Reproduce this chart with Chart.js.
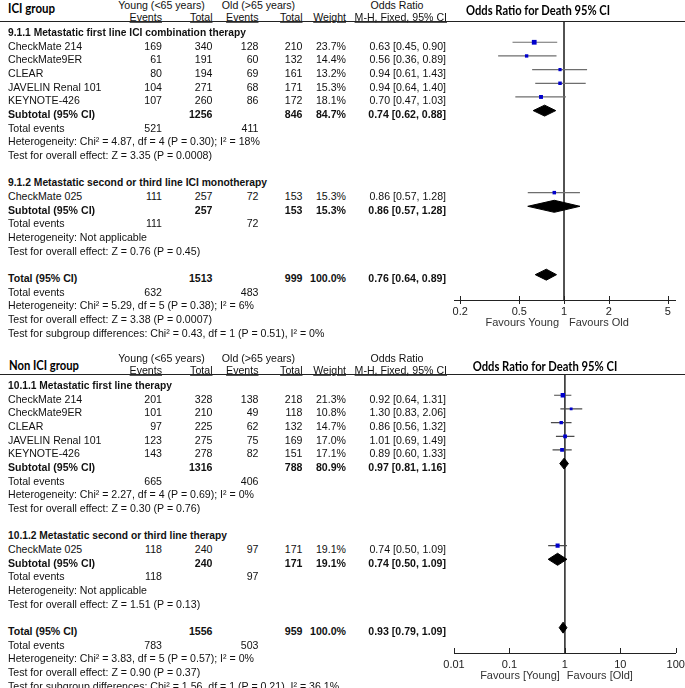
<!DOCTYPE html>
<html>
<head>
<meta charset="utf-8">
<script src="https://cdn.jsdelivr.net/npm/chart.js@4.4.1/dist/chart.umd.min.js"></script>
<style>
html, body { margin: 0; padding: 0; background: #fff; }
body { width: 685px; height: 688px; position: relative; overflow: hidden;
       font-family: "Liberation Sans", Arial, sans-serif; font-size: 10.6px; color: #111; }
.t { position: absolute; white-space: nowrap; line-height: 1; }
.b { font-weight: bold; }
.u { text-decoration: underline; }
.cal { font-family: Lato, "Open Sans", sans-serif; font-weight: bold; color: #000; }
.rule { position: absolute; left: 0; width: 685px; height: 1.4px; background: #222; }
.fp { position: absolute; left: 440px; }
</style>
</head>
<body>
<canvas id="fpTop" class="fp" width="260" height="340" style="top:0px"></canvas>
<canvas id="fpBottom" class="fp" width="260" height="340" style="top:353px"></canvas>
<script>
// ---------- ICI group ----------
var iciTitle = 'ICI group';
var iciHeading1 = '9.1.1 Metastatic first line ICI combination therapy';
var iciStudies1 = ['CheckMate 214', 'CheckMate9ER', 'CLEAR', 'JAVELIN Renal 101', 'KEYNOTE-426'];
var iciYoungEvents1 = [169, 61, 80, 104, 107];
var iciYoungTotal1 = [340, 191, 194, 271, 260];
var iciOldEvents1 = [128, 60, 69, 68, 86];
var iciOldTotal1 = [210, 132, 161, 171, 172];
var iciWeight1 = [23.7, 14.4, 13.2, 15.3, 18.1];
var iciOR1 = [0.63, 0.56, 0.94, 0.94, 0.70];
var iciLow1 = [0.45, 0.36, 0.61, 0.64, 0.47];
var iciHigh1 = [0.90, 0.89, 1.43, 1.40, 1.03];
var iciSubtotal1 = [1256, 846, 84.7];          // young total, old total, weight
var iciSubtotalOR1 = [0.74, 0.62, 0.88];       // OR, low, high
var iciEvents1 = [521, 411];
var iciStats1 = ['Heterogeneity: Chi\u00b2 = 4.87, df = 4 (P = 0.30); I\u00b2 = 18%',
                 'Test for overall effect: Z = 3.35 (P = 0.0008)'];

var iciHeading2 = '9.1.2 Metastatic second or third line ICI monotherapy';
var iciStudies2 = ['CheckMate 025'];
var iciYoungEvents2 = [111];
var iciYoungTotal2 = [257];
var iciOldEvents2 = [72];
var iciOldTotal2 = [153];
var iciWeight2 = [15.3];
var iciOR2 = [0.86];
var iciLow2 = [0.57];
var iciHigh2 = [1.28];
var iciSubtotal2 = [257, 153, 15.3];
var iciSubtotalOR2 = [0.86, 0.57, 1.28];
var iciEvents2 = [111, 72];
var iciStats2 = ['Heterogeneity: Not applicable',
                 'Test for overall effect: Z = 0.76 (P = 0.45)'];

var iciTotal = [1513, 999, 100.0];
var iciTotalOR = [0.76, 0.64, 0.89];
var iciTotalEvents = [632, 483];
var iciTotalStats = ['Heterogeneity: Chi\u00b2 = 5.29, df = 5 (P = 0.38); I\u00b2 = 6%',
                     'Test for overall effect: Z = 3.38 (P = 0.0007)',
                     'Test for subgroup differences: Chi\u00b2 = 0.43, df = 1 (P = 0.51), I\u00b2 = 0%'];
var iciTicks = [0.2, 0.5, 1, 2, 5];
var iciTickLabels = ['0.2', '0.5', '1', '2', '5'];
var iciFavours = ['Favours Young', 'Favours Old'];

// ---------- Non ICI group ----------
var nonTitle = 'Non ICI group';
var nonHeading1 = '10.1.1 Metastatic first line therapy';
var nonStudies1 = ['CheckMate 214', 'CheckMate9ER', 'CLEAR', 'JAVELIN Renal 101', 'KEYNOTE-426'];
var nonYoungEvents1 = [201, 101, 97, 123, 143];
var nonYoungTotal1 = [328, 210, 225, 275, 278];
var nonOldEvents1 = [138, 49, 62, 75, 82];
var nonOldTotal1 = [218, 118, 132, 169, 151];
var nonWeight1 = [21.3, 10.8, 14.7, 17.0, 17.1];
var nonOR1 = [0.92, 1.30, 0.86, 1.01, 0.89];
var nonLow1 = [0.64, 0.83, 0.56, 0.69, 0.60];
var nonHigh1 = [1.31, 2.06, 1.32, 1.49, 1.33];
var nonSubtotal1 = [1316, 788, 80.9];
var nonSubtotalOR1 = [0.97, 0.81, 1.16];
var nonEvents1 = [665, 406];
var nonStats1 = ['Heterogeneity: Chi\u00b2 = 2.27, df = 4 (P = 0.69); I\u00b2 = 0%',
                 'Test for overall effect: Z = 0.30 (P = 0.76)'];

var nonHeading2 = '10.1.2 Metastatic second or third line therapy';
var nonStudies2 = ['CheckMate 025'];
var nonYoungEvents2 = [118];
var nonYoungTotal2 = [240];
var nonOldEvents2 = [97];
var nonOldTotal2 = [171];
var nonWeight2 = [19.1];
var nonOR2 = [0.74];
var nonLow2 = [0.50];
var nonHigh2 = [1.09];
var nonSubtotal2 = [240, 171, 19.1];
var nonSubtotalOR2 = [0.74, 0.50, 1.09];
var nonEvents2 = [118, 97];
var nonStats2 = ['Heterogeneity: Not applicable',
                 'Test for overall effect: Z = 1.51 (P = 0.13)'];

var nonTotal = [1556, 959, 100.0];
var nonTotalOR = [0.93, 0.79, 1.09];
var nonTotalEvents = [783, 503];
var nonTotalStats = ['Heterogeneity: Chi\u00b2 = 3.83, df = 5 (P = 0.57); I\u00b2 = 0%',
                     'Test for overall effect: Z = 0.90 (P = 0.37)',
                     'Test for subgroup differences: Chi\u00b2 = 1.56, df = 1 (P = 0.21), I\u00b2 = 36.1%'];
var nonTicks = [0.01, 0.1, 1, 10, 100];
var nonTickLabels = ['0.01', '0.1', '1', '10', '100'];
var nonFavours = ['Favours [Young]', 'Favours [Old]'];

// ---------- layout ----------
var ROW0 = 32;          // y of first table row inside a panel
var ROWSTEP = 13.67;
var COLS = { name: 8, ye: 162, yt: 212.5, oe: 258.5, ot: 302.5, w: 346, or: 446 };

function addText(s, x, y, align, cls) {
    var el = document.createElement('div');
    el.className = 't ' + (cls || '');
    el.textContent = s;
    el.style.left = x + 'px';
    el.style.top = y + 'px';
    var tx = align === 'right' ? '-100%' : (align === 'center' ? '-50%' : '0');
    el.style.transform = 'translate(' + tx + ',-50%)';
    document.body.appendChild(el);
    return el;
}

// squeeze a text to the width it has in the picture
function fitText(el, target, align) {
    var w = el.getBoundingClientRect().width;
    var k = target / w;
    var tx = align === 'center' ? '-50%' : '0';
    el.style.transformOrigin = align === 'center' ? '50% 50%' : '0 50%';
    el.style.transform = 'translate(' + tx + ',-50%) scaleX(' + k + ')';
}

function fmtOR(a) {
    return a[0].toFixed(2) + ' [' + a[1].toFixed(2) + ', ' + a[2].toFixed(2) + ']';
}

function makeSection(heading, names, ye, yt, oe, ot, w, or, lo, hi, sub, subOR, ev, stats) {
    return { heading: heading, names: names, ye: ye, yt: yt, oe: oe, ot: ot, w: w,
             or: or, lo: lo, hi: hi, sub: sub, subOR: subOR, ev: ev, stats: stats };
}

function buildTable(off, title, titleX, titleY, titleW, sections, headW, total, totalOR, totalEv, totalStats) {
    var t = addText(title, titleX, off + titleY, 'left', 'cal');
    t.style.fontSize = '13px';
    fitText(t, titleW, 'left');

    addText('Young (<65 years)', 161.5, off + 5, 'center');
    addText('Old (>65 years)', 258.5, off + 5, 'center');
    addText('Odds Ratio', 397, off + 5, 'center');
    addText('Events', COLS.ye, off + 17, 'right', 'u');
    addText('Total', COLS.yt, off + 17, 'right', 'u');
    addText('Events', COLS.oe, off + 17, 'right', 'u');
    addText('Total', COLS.ot, off + 17, 'right', 'u');
    addText('Weight', COLS.w, off + 17, 'right', 'u');
    addText('M-H, Fixed, 95% CI', COLS.or + 1, off + 17, 'right', 'u');

    var rule = document.createElement('div');
    rule.className = 'rule';
    rule.style.top = (off + 21) + 'px';
    document.body.appendChild(rule);

    var y = function (r) { return off + ROW0 + ROWSTEP * r; };
    var r = 0;
    sections.forEach(function (s, si) {
        var h = addText(s.heading, COLS.name, y(r), 'left', 'b');
        fitText(h, headW[si], 'left');
        s.names.forEach(function (n, i) {
            var rr = r + 1 + i;
            addText(n, COLS.name, y(rr), 'left');
            addText(String(s.ye[i]), COLS.ye, y(rr), 'right');
            addText(String(s.yt[i]), COLS.yt, y(rr), 'right');
            addText(String(s.oe[i]), COLS.oe, y(rr), 'right');
            addText(String(s.ot[i]), COLS.ot, y(rr), 'right');
            addText(s.w[i].toFixed(1) + '%', COLS.w, y(rr), 'right');
            addText(fmtOR([s.or[i], s.lo[i], s.hi[i]]), COLS.or, y(rr), 'right');
        });
        var k = s.names.length;
        addText('Subtotal (95% CI)', COLS.name, y(r + k + 1), 'left', 'b');
        addText(String(s.sub[0]), COLS.yt, y(r + k + 1), 'right', 'b');
        addText(String(s.sub[1]), COLS.ot, y(r + k + 1), 'right', 'b');
        addText(s.sub[2].toFixed(1) + '%', COLS.w, y(r + k + 1), 'right', 'b');
        addText(fmtOR(s.subOR), COLS.or, y(r + k + 1), 'right', 'b');
        addText('Total events', COLS.name, y(r + k + 2), 'left');
        addText(String(s.ev[0]), COLS.ye, y(r + k + 2), 'right');
        addText(String(s.ev[1]), COLS.oe, y(r + k + 2), 'right');
        addText(s.stats[0], COLS.name, y(r + k + 3), 'left');
        addText(s.stats[1], COLS.name, y(r + k + 4), 'left');
        s.row = r;
        r += k + 6;
    });
    addText('Total (95% CI)', COLS.name, y(r), 'left', 'b');
    addText(String(total[0]), COLS.yt, y(r), 'right', 'b');
    addText(String(total[1]), COLS.ot, y(r), 'right', 'b');
    addText(total[2].toFixed(1) + '%', COLS.w, y(r), 'right', 'b');
    addText(fmtOR(totalOR), COLS.or, y(r), 'right', 'b');
    addText('Total events', COLS.name, y(r + 1), 'left');
    addText(String(totalEv[0]), COLS.ye, y(r + 1), 'right');
    addText(String(totalEv[1]), COLS.oe, y(r + 1), 'right');
    totalStats.forEach(function (s, i) {
        addText(s, COLS.name, y(r + 2 + i), 'left');
    });
    return r;   // row of the overall total
}

// ticks and "Favours" labels under the axis
var axisDecor = {
    id: 'axisDecor',
    afterDraw: function (chart, args, opts) {
        var ctx = chart.ctx, xs = chart.scales.x, yb = chart.chartArea.bottom;
        ctx.save();
        ctx.strokeStyle = '#222';
        ctx.lineWidth = 1;
        xs.ticks.forEach(function (t) {
            var px = Math.round(xs.getPixelForValue(t.value)) + 0.5;
            ctx.beginPath();
            ctx.moveTo(px, yb - opts.up);
            ctx.lineTo(px, yb + opts.down);
            ctx.stroke();
        });
        var x1 = xs.getPixelForValue(1);
        ctx.fillStyle = '#333';
        ctx.font = '11px "Liberation Sans", Arial, sans-serif';
        ctx.textBaseline = 'middle';
        ctx.textAlign = 'right';
        ctx.fillText(opts.labels[0], x1 - 5, yb + 23);
        ctx.textAlign = 'left';
        ctx.fillText(opts.labels[1], x1 + opts.gap, yb + 23);
        ctx.restore();
    }
};

function diamond(a, row, h) {
    return {
        data: [{ x: a[1], y: row }, { x: a[0], y: row - h }, { x: a[2], y: row },
               { x: a[0], y: row + h }, { x: a[1], y: row }],
        showLine: true, fill: 'shape', tension: 0,
        backgroundColor: '#000', borderColor: '#000', borderWidth: 1, pointRadius: 0, order: 1
    };
}

function buildForest(canvasId, sections, totalRow, totalOR, xmin, xmax, ticks, tickLabels, favours, ciColor, tickUp, tickDown, gap, rightPad) {
    var markerShift = -3.4;
    // chart area runs from the rule (22) to the axis (300) inside the canvas
    var yMin = (22 - (ROW0 + markerShift)) / ROWSTEP;
    var yMax = (300 - (ROW0 + markerShift)) / ROWSTEP;
    var datasets = [];

    datasets.push({
        data: [{ x: 1, y: yMin }, { x: 1, y: yMax }],
        showLine: true, borderColor: '#3a3a3a', borderWidth: 1, pointRadius: 0, order: 10
    });

    var squares = [], radii = [];
    sections.forEach(function (s) {
        s.names.forEach(function (n, i) {
            var row = s.row + 1 + i;
            datasets.push({
                data: [{ x: s.lo[i], y: row }, { x: s.hi[i], y: row }],
                showLine: true, borderColor: ciColor, borderWidth: 1.2, pointRadius: 0, order: 5
            });
            squares.push({ x: s.or[i], y: row });
            radii.push((1.2 + 0.15 * s.w[i]) / Math.SQRT2);
        });
        var dr = s.row + s.names.length + 1;
        var h = s.names.length > 1 ? 0.4 : 0.44;
        datasets.push(diamond(s.subOR, dr, h));
    });
    datasets.push(diamond(totalOR, totalRow, 0.4));

    datasets.push({
        data: squares, pointStyle: 'rect', pointRadius: radii, pointHoverRadius: radii,
        backgroundColor: '#0000cc', borderColor: '#0000cc', pointBorderWidth: 0, order: 1
    });

    return new Chart(document.getElementById(canvasId), {
        type: 'scatter',
        data: { datasets: datasets },
        options: {
            responsive: false,
            animation: false,
            events: [],
            layout: { padding: { left: 14, right: rightPad, top: 22, bottom: 0 } },
            plugins: {
                legend: { display: false },
                tooltip: { enabled: false },
                axisDecor: { up: tickUp, down: tickDown, labels: favours, gap: gap }
            },
            scales: {
                x: {
                    type: 'logarithmic', min: xmin, max: xmax,
                    grid: { display: false, drawTicks: false },
                    border: { display: true, color: '#222', width: 1 },
                    ticks: {
                        autoSkip: false, maxRotation: 0, padding: 5, color: '#222',
                        font: { family: '"Liberation Sans", Arial, sans-serif', size: 11 },
                        callback: function (v, i) { return tickLabels[i]; }
                    },
                    afterBuildTicks: function (s) {
                        s.ticks = ticks.map(function (v) { return { value: v }; });
                    },
                    afterFit: function (s) {
                        s.height = 40; s.paddingLeft = 0; s.paddingRight = 0;
                    }
                },
                y: { type: 'linear', display: false, reverse: true, min: yMin, max: yMax }
            }
        },
        plugins: [axisDecor]
    });
}

// ---------- top panel ----------
var iciSections = [
    makeSection(iciHeading1, iciStudies1, iciYoungEvents1, iciYoungTotal1, iciOldEvents1, iciOldTotal1,
                iciWeight1, iciOR1, iciLow1, iciHigh1, iciSubtotal1, iciSubtotalOR1, iciEvents1, iciStats1),
    makeSection(iciHeading2, iciStudies2, iciYoungEvents2, iciYoungTotal2, iciOldEvents2, iciOldTotal2,
                iciWeight2, iciOR2, iciLow2, iciHigh2, iciSubtotal2, iciSubtotalOR2, iciEvents2, iciStats2)
];
var iciTotalRow = buildTable(0, iciTitle, 8, 7.5, 47, iciSections, [238, 259],
                             iciTotal, iciTotalOR, iciTotalEvents, iciTotalStats);
var t1 = addText('Odds Ratio for Death 95% CI', 538, 10, 'center', 'cal');
t1.style.fontSize = '13px';
fitText(t1, 144, 'center');
buildForest('fpTop', iciSections, iciTotalRow, iciTotalOR, 0.1816, 5.59, iciTicks, iciTickLabels, iciFavours,
            '#6e6e6e', 4, 4, 5, 25);

// ---------- bottom panel ----------
var nonSections = [
    makeSection(nonHeading1, nonStudies1, nonYoungEvents1, nonYoungTotal1, nonOldEvents1, nonOldTotal1,
                nonWeight1, nonOR1, nonLow1, nonHigh1, nonSubtotal1, nonSubtotalOR1, nonEvents1, nonStats1),
    makeSection(nonHeading2, nonStudies2, nonYoungEvents2, nonYoungTotal2, nonOldEvents2, nonOldTotal2,
                nonWeight2, nonOR2, nonLow2, nonHigh2, nonSubtotal2, nonSubtotalOR2, nonEvents2, nonStats2)
];
var nonTotalRow = buildTable(353, nonTitle, 9, 12, 70, nonSections, [164, 219],
                             nonTotal, nonTotalOR, nonTotalEvents, nonTotalStats);
var t2 = addText('Odds Ratio for Death 95% CI', 545, 365.7, 'center', 'cal');
t2.style.fontSize = '13px';
fitText(t2, 144.6, 'center');
buildForest('fpBottom', nonSections, nonTotalRow, nonTotalOR, 0.01, 100, nonTicks, nonTickLabels, nonFavours,
            '#4a4a4a', 5, 0, 2, 24.3);
</script>
</body>
</html>
